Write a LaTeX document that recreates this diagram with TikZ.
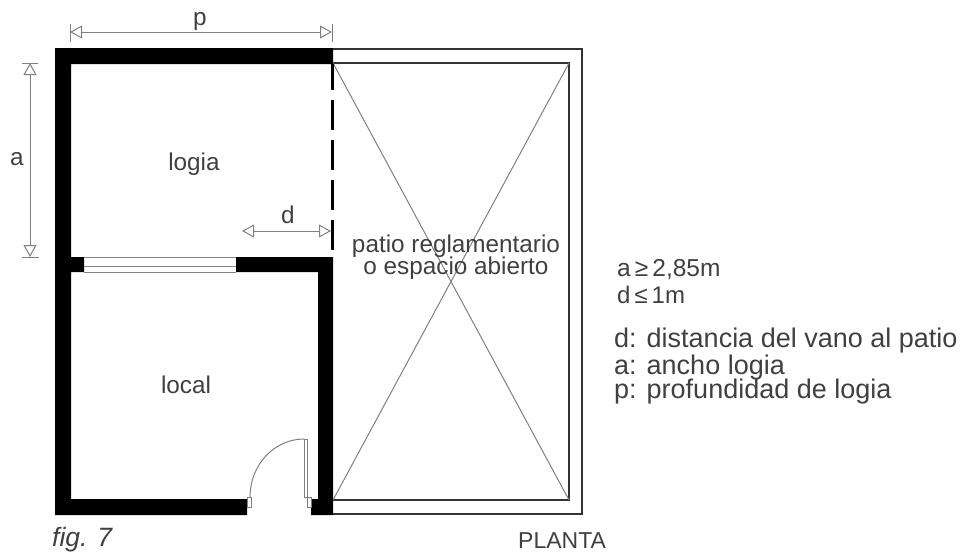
\documentclass[tikz,border=0pt]{standalone}
\usepackage{fontspec}
\setmainfont{Liberation Sans}
\usetikzlibrary{arrows.meta}
\definecolor{inkgray}{gray}{0.25}
\definecolor{dimgray}{gray}{0.5}
\tikzset{
    label/.style={text=inkgray,font=\fontsize{24.3}{22}\selectfont,inner sep=0pt,anchor=base},
    legend/.style={label,anchor=base west},
    wall/.style={fill=black,draw=none},
    thinline/.style={draw=dimgray,line width=1pt},
    edgeline/.style={draw=black!80,line width=1.4pt},
    dimline/.style={thinline,{Triangle[open,length=12pt,width=13pt]}-{Triangle[open,length=12pt,width=13pt]}},
}
\begin{document}
\begin{tikzpicture}[x=1pt,y=-1pt]
        \useasboundingbox (0,0) rectangle (960,552);
        % patio
        \draw[edgeline] (333,49) -- (582,49) -- (582,514) -- (333,514);
        \draw[edgeline] (333,63) -- (569,63) -- (569,500) -- (333,500);
        \draw[thinline] (333,63) -- (569,500);
        \draw[thinline] (569,63) -- (333,500);
        % walls
        \fill[wall] (55,48) -- (333,48) -- (333,64) -- (71,64) -- (71,257) -- (84,257) -- (84,272)
            -- (71,272) -- (71,499) -- (247,499) -- (247,515) -- (55,515) -- cycle;
        \fill[wall] (236,257) -- (333,257) -- (333,515) -- (311,515) -- (311,499) -- (318,499)
            -- (318,272) -- (236,272) -- cycle;
        % open side of logia
        \draw[black,line width=3pt,dash pattern=on 30pt off 10pt,dash phase=4pt] (332,64) -- (332,252);
        % window
        \draw[thinline] (84,257) -- (236,257);
        \draw[thinline] (84,266) -- (236,266);
        \draw[thinline] (84,272) -- (236,272);
        % door
        \draw[thinline] (304,439) rectangle (307,497);
        \draw[thinline] (307,497) rectangle (311,507);
        \draw[thinline] (247,497) rectangle (251,507);
        \draw[thinline] (304,439) arc (270:180:54 and 58);
        % dimensions
        \coordinate (p1) at (70,32);
        \coordinate (p2) at (332,32);
        \coordinate (a1) at (30,63);
        \coordinate (a2) at (30,257);
        \coordinate (d1) at (242,231);
        \coordinate (d2) at (331,231);
        \draw[dimline] (p1) -- (p2);
        \draw[dimline] (a1) -- (a2);
        \draw[dimline] (d1) -- (d2);
        \draw[thinline] (70,24) -- (70,42);
        \draw[thinline] (332,24) -- (332,42);
        \draw[thinline] (22,63) -- (38,63);
        \draw[thinline] (22,257) -- (39,257);
        % labels
        \node[label] (plabel) at (200,25) {p};
        \node[label] (alabel) at (17,165) {a};
        \node[label] (dlabel) at (288,223) {d};
        \node[label] (logia) at (194,170) {logia};
        \node[label] (local) at (186,393) {local};
        \node[label] (patio) at (456,252) {patio reglamentario};
        \node[label] (abierto) at (456,274) {o espacio abierto};
        \node[legend,font=\fontsize{24.5}{25}\selectfont] (amin) at (617,276) {a\,≥\,2,85m};
        \node[legend,font=\fontsize{24}{25}\selectfont] (dmax) at (617,303) {d\,≤\,1m};
        \node[legend,font=\fontsize{27}{28}\selectfont] (ddef) at (614,347) {d: distancia del vano al patio};
        \node[legend,font=\fontsize{27}{28}\selectfont] (adef) at (614,374) {a: ancho logia};
        \node[legend,font=\fontsize{27}{28}\selectfont] (pdef) at (614,398) {p: profundidad de logia};
        \node[legend,font=\itshape\fontsize{26.5}{27}\selectfont] (fig) at (52,546) {fig. 7};
        \node[legend,font=\fontsize{23}{24}\selectfont] (planta) at (518,548) {PLANTA};
    \end{tikzpicture}
\end{document}
